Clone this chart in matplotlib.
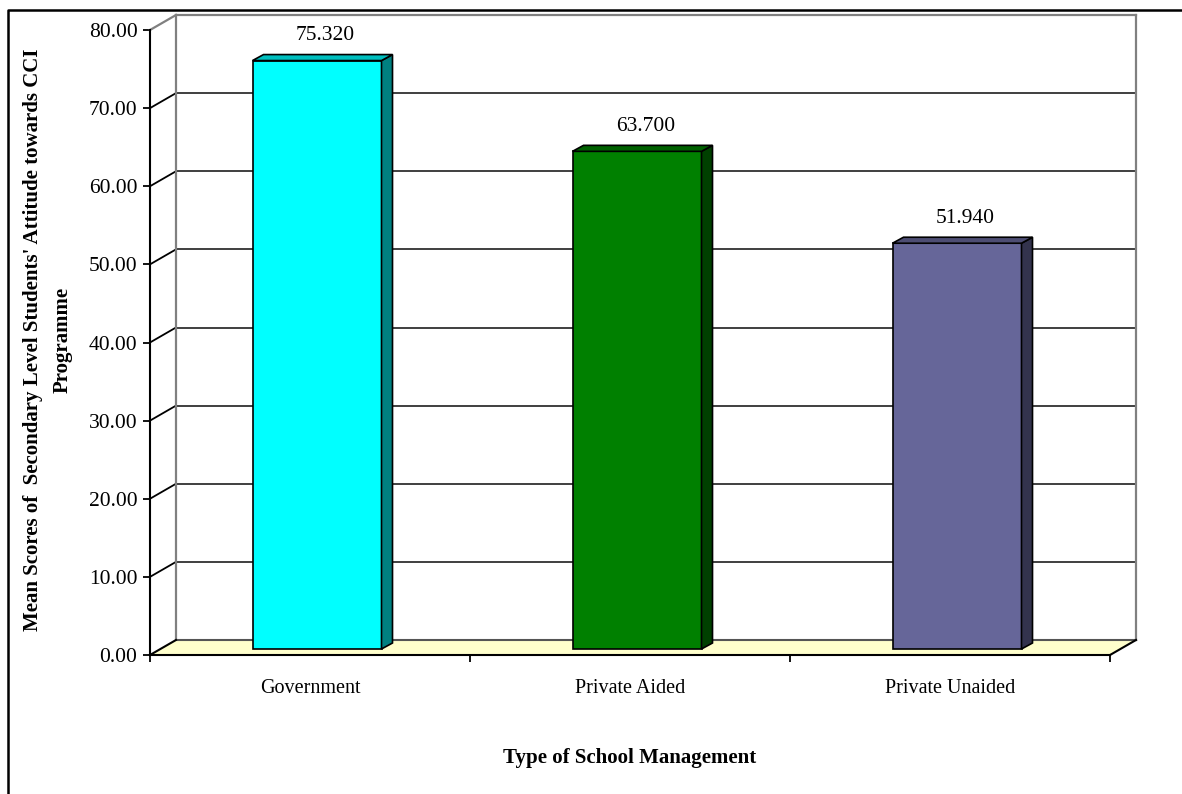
import matplotlib
matplotlib.use("Agg")
import matplotlib.pyplot as plt
from matplotlib.patches import Polygon
from matplotlib.lines import Line2D

# ---- data ----
categories = ["Government", "Private Aided", "Private Unaided"]
values = [75.320, 63.700, 51.940]
value_labels = ["75.320", "63.700", "51.940"]
y_ticks = [0, 10, 20, 30, 40, 50, 60, 70, 80]
y_tick_labels = ["%.2f" % v for v in y_ticks]
front_colors = ["#00FFFF", "#008000", "#666699"]
side_colors = ["#008080", "#004000", "#33334D"]
top_colors = ["#00BFBF", "#006000", "#4D4D73"]
y_title = "Mean Scores of  Secondary Level Students' Attitude towards CCI\nProgramme"
x_title = "Type of School Management"

W, H = 1182, 794
plt.rcParams['font.family'] = ['Liberation Serif', 'DejaVu Serif']
fig = plt.figure(figsize=(W / 100, H / 100), dpi=100)

# front plane of the plot (pixels)
X0, X1, YB, YT = 150, 1110, 655, 30
ax = fig.add_axes([X0 / W, (H - YB) / H, (X1 - X0) / W, (YB - YT) / H])
n = len(categories)
ax.set_xlim(0, n)
ax.set_ylim(0, 80)
ax.patch.set_visible(False)

# pixel -> data unit conversions
px_x = n / (X1 - X0)
px_y = 80 / (YB - YT)
DX, DY = 26 * px_x, 15 * px_y          # wall depth
BFX, BFY = 7 * px_x, 6 * px_y          # bar front offset from front plane
BDX, BDY = 11 * px_x, 6 * px_y         # bar depth
BW = 129 * px_x                        # bar width

kw = dict(clip_on=False)
# back wall
ax.add_patch(Polygon([(DX, DY), (n + DX, DY), (n + DX, 80 + DY), (DX, 80 + DY)],
                     closed=True, facecolor="white", edgecolor="none", zorder=1, **kw))
for v in y_ticks[1:-1]:
    ax.add_line(Line2D([DX, n + DX], [v + DY, v + DY], color="#303030", lw=1.3, zorder=2, **kw))
    ax.add_line(Line2D([0, DX], [v, v + DY], color="black", lw=1.3, zorder=2, **kw))
# wall edges
ax.add_line(Line2D([DX, n + DX], [80 + DY, 80 + DY], color="#808080", lw=1.6, zorder=2, **kw))
ax.add_line(Line2D([DX, DX], [DY, 80 + DY], color="#808080", lw=1.6, zorder=2, **kw))
ax.add_line(Line2D([n + DX, n + DX], [DY, 80 + DY], color="#808080", lw=1.6, zorder=2, **kw))
ax.add_line(Line2D([0, DX], [80, 80 + DY], color="#808080", lw=1.6, zorder=2, **kw))
# floor
ax.add_patch(Polygon([(0, 0), (n, 0), (n + DX, DY), (DX, DY)], closed=True,
                     facecolor="#FFFFCC", edgecolor="none", zorder=3, **kw))
ax.add_line(Line2D([DX, n + DX], [DY, DY], color="#555555", lw=1.5, zorder=3, **kw))
ax.add_line(Line2D([0, DX], [0, DY], color="black", lw=1.5, zorder=3, **kw))
ax.add_line(Line2D([n, n + DX], [0, DY], color="black", lw=1.5, zorder=3, **kw))

# bars
for i, (v, fc, sc, tc) in enumerate(zip(values, front_colors, side_colors, top_colors)):
    cx = i + 0.5 + BFX
    x0, x1 = cx - BW / 2, cx + BW / 2
    y0, y1 = BFY, BFY + v
    ax.add_patch(Polygon([(x0, y0), (x1, y0), (x1, y1), (x0, y1)], closed=True,
                         facecolor=fc, edgecolor="black", lw=1.2, zorder=5, **kw))
    ax.add_patch(Polygon([(x1, y0), (x1 + BDX, y0 + BDY), (x1 + BDX, y1 + BDY), (x1, y1)], closed=True,
                         facecolor=sc, edgecolor="black", lw=1.2, zorder=5, **kw))
    ax.add_patch(Polygon([(x0, y1), (x1, y1), (x1 + BDX, y1 + BDY), (x0 + BDX, y1 + BDY)], closed=True,
                         facecolor=tc, edgecolor="black", lw=1.2, zorder=5, **kw))
    ax.annotate(value_labels[i], xy=(cx + BDX / 2, y1), xytext=(2, 18), textcoords="offset points",
                ha="center", va="center", fontsize=15.5, zorder=6)

# axes / ticks
for s in ("top", "right"):
    ax.spines[s].set_visible(False)
for s in ("left", "bottom"):
    ax.spines[s].set_color("black")
    ax.spines[s].set_linewidth(1.5)
    ax.spines[s].set_zorder(4)
ax.set_yticks(y_ticks)
ax.set_yticklabels(y_tick_labels, fontsize=15.5)
ax.tick_params(axis="y", direction="out", length=5, width=1.3, pad=4)
ax.set_xticks([i + 0.5 for i in range(n)])
ax.set_xticklabels(categories, fontsize=14.5)
ax.tick_params(axis="x", which="major", length=0, pad=17)
ax.set_xticks(list(range(n + 1)), minor=True)
ax.tick_params(axis="x", which="minor", direction="out", length=5, width=1.3)

# titles
fig.text(48 / W, 1 - 340 / H, y_title, rotation=90, ha="center", va="center",
         fontsize=15, fontweight="bold", linespacing=1.65, multialignment="center")
fig.text(630 / W, 1 - 758 / H, x_title, ha="center", va="center", fontsize=15, fontweight="bold")

# outer border
fig.add_artist(Line2D([8 / W, 8 / W, 1.0], [0.0, 1 - 10 / H, 1 - 10 / H],
                      transform=fig.transFigure, color="black", lw=1.8))

fig.savefig("out.png", dpi=100)
